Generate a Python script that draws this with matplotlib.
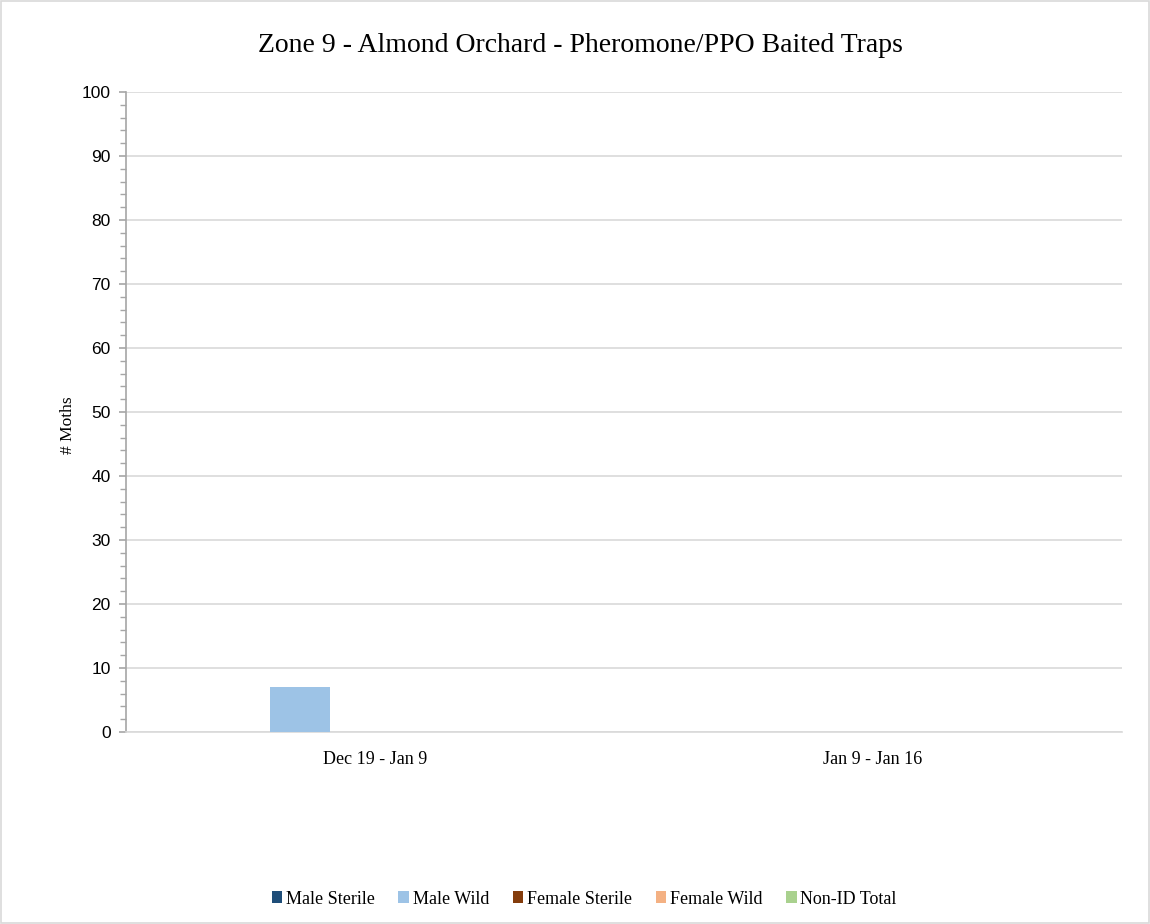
import matplotlib
matplotlib.use("Agg")
import matplotlib.pyplot as plt
import numpy as np
from matplotlib.ticker import MultipleLocator
from matplotlib.patches import Rectangle

categories = ["Dec 19 - Jan 9", "Jan 9 - Jan 16"]
series_names = ["Male Sterile", "Male Wild", "Female Sterile", "Female Wild", "Non-ID Total"]
male_sterile = [0, 0]
male_wild = [7, 0]
female_sterile = [0, 0]
female_wild = [0, 0]
non_id_total = [0, 0]
colors = ["#1f4e79", "#9dc3e6", "#843c0c", "#f4b183", "#a9d18e"]

series = [male_sterile, male_wild, female_sterile, female_wild, non_id_total]

fig = plt.figure(figsize=(11.5, 9.24), dpi=100)
fig.patches.append(Rectangle((0.001, 0.001), 0.998, 0.998, transform=fig.transFigure,
                             fill=False, edgecolor="#d9d9d9", linewidth=1.2))
ax = fig.add_axes([0.1096, 0.2078, 0.9757 - 0.1096, 0.9004 - 0.2078])

x = np.arange(len(categories))
step = 0.1506
width = 0.1205
for i, (vals, name, c) in enumerate(zip(series, series_names, colors)):
    ax.bar(x + (i - 2) * step, vals, width=width, color=c, label=name, zorder=3)

ax.set_xlim(-0.5, len(categories) - 0.5)
ax.set_ylim(0, 100)
ax.yaxis.set_major_locator(MultipleLocator(10))
ax.yaxis.set_minor_locator(MultipleLocator(2))
ax.grid(axis="y", which="major", color="#d9d9d9", linewidth=1.2, zorder=0)
ax.set_axisbelow(True)
for s in ["top", "right"]:
    ax.spines[s].set_visible(False)
ax.spines["left"].set_color("#a6a6a6")
ax.spines["bottom"].set_color("#d9d9d9")
ax.spines["left"].set_linewidth(1.2)
ax.spines["bottom"].set_linewidth(1.2)
ax.tick_params(axis="y", which="major", length=5, color="#a6a6a6", width=1.2,
               labelsize=12.5, pad=6)
ax.tick_params(axis="y", which="minor", length=4, color="#a6a6a6", width=1.0)
for lbl in ax.get_yticklabels():
    lbl.set_family("Liberation Sans")
ax.set_xticks(x)
ax.set_xticklabels(categories, family="Liberation Serif", fontsize=13)
ax.tick_params(axis="x", length=0, pad=14)

fig.text(0.059, 0.54, "# Moths", rotation=90, ha="center", va="center",
         family="Liberation Serif", fontsize=12.5)
fig.text(0.505, 0.951, "Zone 9 - Almond Orchard - Pheromone/PPO Baited Traps",
         ha="center", va="center", family="Liberation Serif", fontsize=20)

leg = fig.legend(loc="center", bbox_to_anchor=(0.508, 0.027), ncol=5, frameon=False,
                 prop={"family": "Liberation Serif", "size": 13},
                 handlelength=0.6, handleheight=0.6, handletextpad=0.2, columnspacing=1.3)

fig.savefig("out.png", dpi=100)
